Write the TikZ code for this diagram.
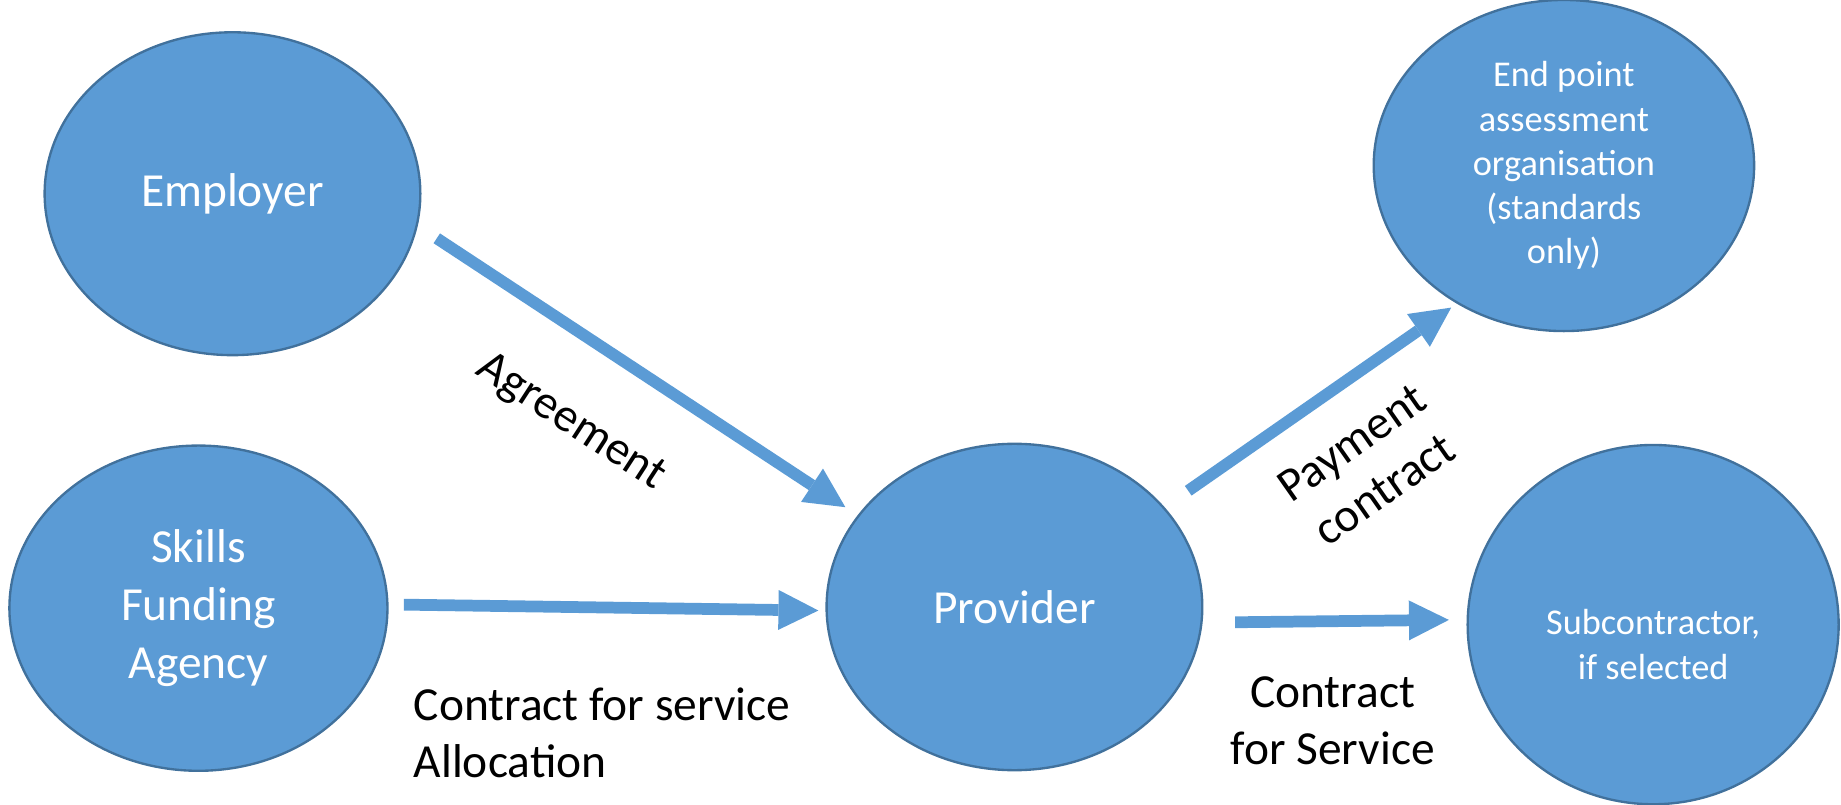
\documentclass[tikz,border=0pt]{standalone}
\usepackage{fontspec}
\setmainfont{Carlito}
\usetikzlibrary{shapes.geometric,arrows.meta}
\definecolor{bubble}{HTML}{5B9BD5}
\definecolor{bubbleline}{HTML}{41719C}
\tikzset{
  party/.style={ellipse,draw=bubbleline,line width=0.02cm,fill=bubble,text=white,align=center,inner sep=0pt,font=\fontsize{11.5}{14}\selectfont},
  smallparty/.style={party,font=\fontsize{8.8}{10.7}\selectfont},
  flow/.style={draw=bubble,line width=0.1cm,-{Triangle[length=0.34cm,width=0.34cm,line width=0pt]}},
  lbl/.style={font=\fontsize{11.5}{13.8}\selectfont}
}
\begin{document}
\begin{tikzpicture}
\useasboundingbox (0,0) rectangle (15.68,6.85);

%Parties
\node[party,minimum width=3.20cm,minimum height=2.75cm] (employer) at (1.98,5.20) {\raisebox{-0.08cm}{Employer}};
\node[party,minimum width=3.22cm,minimum height=2.77cm] (sfa) at (1.69,1.67) {Skills\\Funding\\Agency};
\node[party,minimum width=3.20cm,minimum height=2.78cm] (provider) at (8.64,1.68) {Provider};
\node[smallparty,minimum width=3.24cm,minimum height=2.82cm] (epa) at (13.32,5.44) {End point\\assessment\\organisation\\(standards\\only)};
\node[smallparty,minimum width=3.16cm,minimum height=3.06cm,
  label={[text=white,align=center,font=\fontsize{8.8}{10.7}\selectfont,yshift=-0.17cm]center:Subcontractor,\\if selected}] (sub) at (14.08,1.53) {};

%Arrow ends
\coordinate (agreeA) at (3.72,4.82);
\coordinate (agreeB) at (7.20,2.53);
\coordinate (allocA) at (3.44,1.70);
\coordinate (allocB) at (6.97,1.65);
\coordinate (payA) at (10.12,2.67);
\coordinate (payB) at (12.36,4.23);
\coordinate (serviceA) at (10.52,1.55);
\coordinate (serviceB) at (12.34,1.57);

\draw[flow] (agreeA) -- (agreeB);
\draw[flow] (allocA) -- (allocB);
\draw[flow] (payA) -- (payB);
\draw[flow] (serviceA) -- (serviceB);

%Labels
\node[lbl,rotate=-33] (agreement) at (4.86,3.25) {Agreement};
\node[lbl,align=left,anchor=west] (allocation) at (3.40,0.61) {Contract for service\\Allocation};
\node[lbl,align=center,rotate=35] (payment) at (11.65,2.88) {Payment\\contract};
\node[lbl,align=center] (service) at (11.35,0.71) {Contract\\for Service};
\end{tikzpicture}
\end{document}
